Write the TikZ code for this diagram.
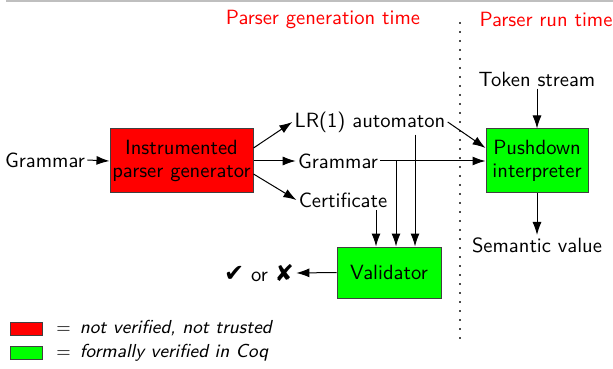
\documentclass[tikz,border=0pt]{standalone}
\usepackage{fontspec}
\newfontfamily\dejavu{DejaVu Sans}
\usetikzlibrary{arrows.meta}
\begin{document}
\begin{tikzpicture}[x=0.5pt,y=-0.5pt,font=\fontsize{10.3}{11.3}\sffamily,
  box/.style={draw=black!75,line width=0.5pt,align=center,inner sep=0pt},
  lbl/.style={inner sep=1pt},
  arr/.style={-{Latex[length=6.5pt,width=4.5pt]},line width=0.5pt},
  head/.style={text=red},
  legtext/.style={inner sep=1pt,anchor=west,font=\fontsize{9.4}{11}\sffamily},
  legbox/.style={draw=black!75,line width=0.5pt,minimum width=16pt,minimum height=6.5pt,inner sep=0pt}]
\useasboundingbox (0,0) rectangle (613,368);
\draw[black!25,line width=1pt] (6,1) -- (613,1);
% headings
\node[head] (h1) at (323,19) {Parser generation time};
\node[head] (h2) at (546,19) {Parser run time};
\draw[black!70,line width=0.8pt,dash pattern=on 0.8pt off 3.7pt] (460,22) -- (460,340);
% boxes
\node[box,fill=red,minimum width=71.5pt,minimum height=32pt] (gen) at (181.5,161) {Instrumented\\parser generator};
\node[box,fill=green,minimum width=51pt,minimum height=32pt] (push) at (537,161) {Pushdown\\interpreter};
\node[box,fill=green,minimum width=52pt,minimum height=25.5pt] (val) at (389,272.5) {Validator};
% labels
\node[lbl] (g1) at (45,160) {Grammar};
\node[lbl] (lr) at (370,122) {LR(1) automaton};
\node[lbl] (g2) at (338,161) {Grammar};
\node[lbl] (cert) at (343,200) {Certificate};
\node[lbl] (tok) at (537,79) {Token stream};
\node[lbl] (sem) at (537,245) {Semantic value};
\node[lbl] (chk) at (259,273) {{\dejavu\fontsize{12}{12}\selectfont ✔} or {\dejavu\fontsize{11.5}{12}\selectfont ✘}};
% connectors
\draw[arr] (g1.east) -- (gen.west);
\draw[arr] ([yshift=6.5pt]gen.east) -- (lr.west);
\draw[arr] (gen.east) -- (g2.west);
\draw[arr] ([yshift=-6.5pt]gen.east) -- (cert.west);
\draw[arr] (lr.east) -- ([yshift=6.5pt]push.west);
\draw[arr] (g2.east) -- (push.west);
\path ([xshift=-6.5pt]val.north) coordinate (v1)
      ([xshift=3.5pt]val.north) coordinate (v2)
      ([xshift=13pt]val.north) coordinate (v3);
\draw[arr] (cert.south -| v1) -- (v1);
\draw[arr] (g2.east -| v2) -- (v2);
\draw[arr] (lr.south -| v3) -- (v3);
\draw[arr] (val.west) -- (chk.east);
\draw[arr] (tok.south) -- (push.north);
\draw[arr] (push.south) -- (sem.north);
% legend
\node[legbox,fill=red] (lg1) at (26,328.5) {};
\node[legbox,fill=green] (lg2) at (26,352.5) {};
\node[legtext] (lt1) at (54,328.5) {$=$\hspace{4.5pt}\textit{not verified, not trusted}};
\node[legtext] (lt2) at (54,352.5) {$=$\hspace{4.5pt}\textit{formally verified in Coq}};
\end{tikzpicture}
\end{document}
